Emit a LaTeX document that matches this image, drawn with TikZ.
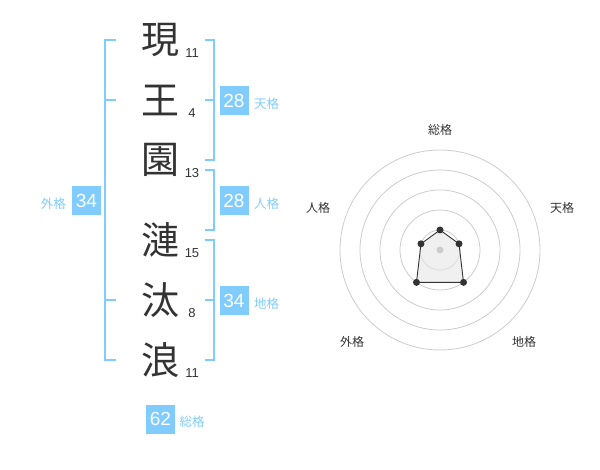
\documentclass[tikz,border=0pt]{standalone}
\usepackage{fontspec}
\setmainfont{Liberation Sans}
\newfontfamily\cjk{Noto Sans CJK JP}
\usetikzlibrary{calc}
\definecolor{cSKY}{HTML}{80CCFF}
\definecolor{cINK}{HTML}{333333}
\definecolor{cRING}{HTML}{CCCCCC}
\definecolor{cFILL}{HTML}{E6E6E6}

\tikzset{
  kanji/.style={font=\cjk\fontsize{38}{38}\selectfont, text=cINK, inner sep=0pt},
  strokes/.style={font=\fontsize{13}{13}\selectfont, text=cINK, inner sep=0pt},
  kakubox/.style={fill=cSKY, text=white, font=\fontsize{19}{19}\selectfont, minimum width=29pt, minimum height=29pt, inner sep=0pt},
  kakutag/.style={font=\cjk\fontsize{12.5}{12.5}\selectfont, text=cSKY, inner sep=0pt},
  brk/.style={draw=cSKY, line width=2pt},
  axislab/.style={font=\cjk\fontsize{12}{12}\selectfont, text=cINK, inner sep=0pt},
  ring/.style={draw=cRING, line width=0.8pt},
  dot/.style={circle, fill=cINK, inner sep=0pt, minimum size=7pt},
}

\begin{document}
\begin{tikzpicture}[x=1pt, y=-1pt]
\useasboundingbox (0,0) rectangle (600,470);

% name, one character per row
\foreach \i/\k/\n/\y in {1/現/11/40, 2/王/4/100, 3/園/13/160, 4/漣/15/240, 5/汰/8/300, 6/浪/11/360} {
  \node[kanji] (k\i) at (160,\y) {\k};
  \node[strokes] (n\i) at (192,\y+13) {\n};
}

% brackets
\draw[brk] (116,40) -| (105,360) -- (116,360);
\draw[brk] (105,100) -- (116,100);
\draw[brk] (105,300) -- (116,300);
\draw[brk] (205,40) -| (214,160) -- (205,160);
\draw[brk] (205,100) -- (214,100);
\draw[brk] (205,170) -| (214,230) -- (205,230);
\draw[brk] (205,240) -| (214,360) -- (205,360);
\draw[brk] (205,300) -- (214,300);

% boxes
\node[kakubox] (ten) at (234,100.5) {28};
\node[kakutag, anchor=west] (tenT) at (254,104) {天格};
\node[kakubox] (jin) at (234,200.5) {28};
\node[kakutag, anchor=west] (jinT) at (254,204) {人格};
\node[kakubox] (chi) at (234,300.5) {34};
\node[kakutag, anchor=west] (chiT) at (254,304) {地格};
\node[kakubox] (gai) at (86.5,200.5) {34};
\node[kakutag, anchor=east] (gaiT) at (66,203.5) {外格};
\node[kakubox] (sou) at (160.5,419) {62};
\node[kakutag, anchor=west] (souT) at (179.5,422) {総格};

% radar
\coordinate (c) at (440,250);
\foreach \r in {20,40,...,100}
  \draw[ring] (c) circle[radius=\r];
\path (c) ++(-90:20) coordinate (pSou)
      (c) ++(-18:20) coordinate (pTen)
      (c) ++(54:40) coordinate (pChi)
      (c) ++(126:40) coordinate (pGai)
      (c) ++(198:20) coordinate (pJin);
\draw[fill=cFILL, fill opacity=0.6, line width=0.9pt, draw=cINK] (pSou) -- (pTen) -- (pChi) -- (pGai) -- (pJin) -- cycle;
\fill[cRING] (c) circle[radius=3.5];
\foreach \p in {pSou,pTen,pChi,pGai,pJin}
  \node[dot] at (\p) {};

\node[axislab] (aSou) at (440,130) {総格};
\node[axislab] (aTen) at (562,208) {天格};
\node[axislab] (aJin) at (318,208) {人格};
\node[axislab] (aGai) at (352,342) {外格};
\node[axislab] (aChi) at (524,342) {地格};
\end{tikzpicture}
\end{document}
